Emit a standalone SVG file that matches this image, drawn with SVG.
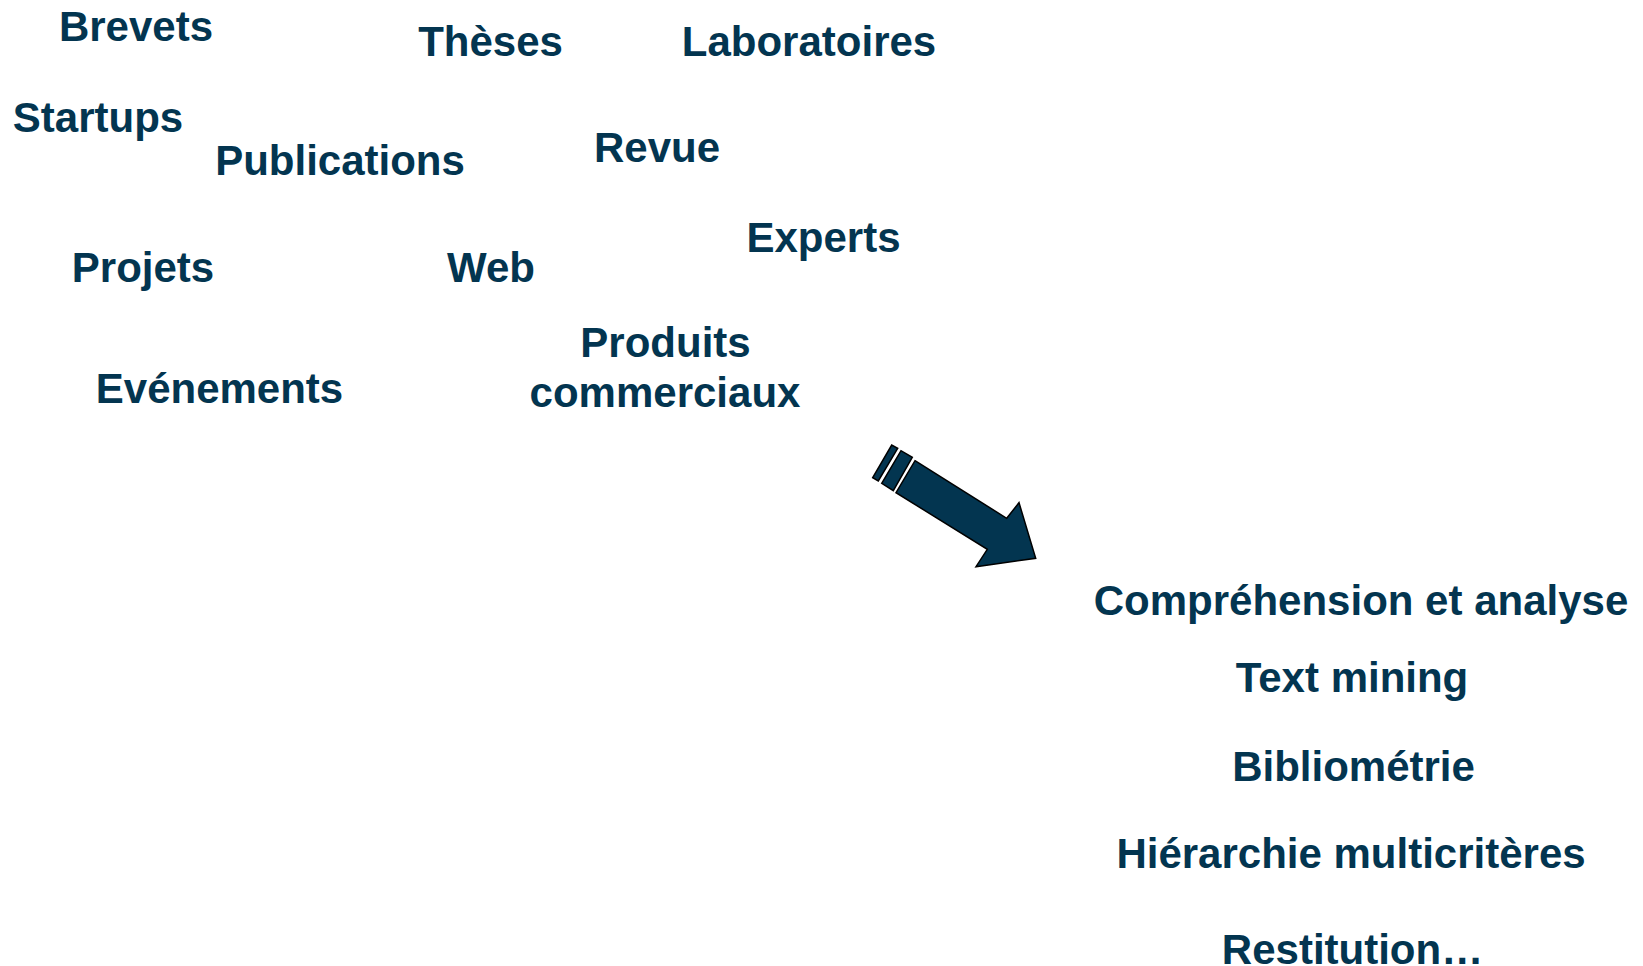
<svg xmlns="http://www.w3.org/2000/svg" width="1643" height="966" viewBox="0 0 1643 966">
<style>
.t{font-family:"Liberation Sans",Arial,sans-serif;font-weight:bold;font-size:42px;fill:#033550;text-anchor:middle}
.a{fill:#033550;stroke:#000;stroke-width:1.5;stroke-linejoin:miter}
</style>
<rect width="1643" height="966" fill="#fff"/>
<g id="sources">
<g id="n-brevets"><text class="t" x="136" y="41">Brevets</text></g>
<g id="n-startups"><text class="t" x="98" y="132">Startups</text></g>
<g id="n-publications"><text class="t" x="340" y="175">Publications</text></g>
<g id="n-theses"><text class="t" x="490.5" y="56">Thèses</text></g>
<g id="n-laboratoires"><text class="t" x="809" y="56">Laboratoires</text></g>
<g id="n-revue"><text class="t" x="657" y="162">Revue</text></g>
<g id="n-projets"><text class="t" x="143" y="282">Projets</text></g>
<g id="n-web"><text class="t" x="491" y="282">Web</text></g>
<g id="n-experts"><text class="t" x="823.5" y="252">Experts</text></g>
<g id="n-evenements"><text class="t" x="219.5" y="403">Evénements</text></g>
<g id="n-produits"><text class="t" x="665.5" y="357">Produits</text><text class="t" x="665" y="407">commerciaux</text></g>
</g>
<g id="connectors">
<polygon class="a" points="872.7,477.7 891.7,445 897.7,448.3 878.3,481"/>
<polygon class="a" points="881.7,483.3 901,450.7 912.3,457.3 893.3,490.7"/>
<polygon class="a" points="915,460.7 1006.7,518.3 1019,502.7 1035.7,558.3 976,566.7 987.3,549.3 896,492.7"/>
</g>
<g id="outcomes">
<g id="n-comprehension"><text class="t" x="1361" y="615">Compréhension et analyse</text></g>
<g id="n-textmining"><text class="t" x="1352" y="692">Text mining</text></g>
<g id="n-bibliometrie"><text class="t" x="1353.5" y="781">Bibliométrie</text></g>
<g id="n-hierarchie"><text class="t" x="1351" y="868">Hiérarchie multicritères</text></g>
<g id="n-restitution"><text class="t" x="1352.5" y="964">Restitution…</text></g>
</g>
</svg>
